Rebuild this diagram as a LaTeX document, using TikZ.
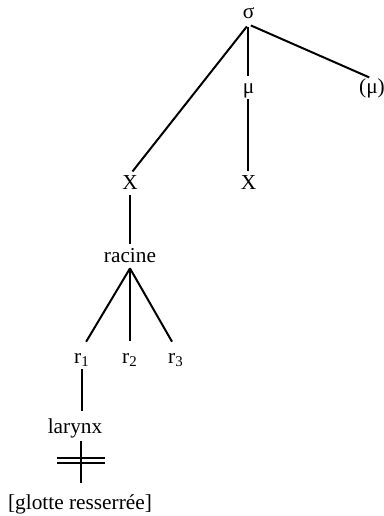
\documentclass[tikz,border=0pt]{standalone}
\usepackage{fontspec}
\setmainfont{Liberation Serif}
\usepackage{tikz}
\usetikzlibrary{calc}

\begin{document}
\begin{tikzpicture}[
    x=0.5pt,
    y=-0.5pt,
    font=\fontsize{10.65pt}{13pt}\selectfont,
    seg/.style={
        anchor=base,
        inner sep=0pt,
        text height=0.7em,
        text depth=0.3em
    },
    edge/.style={
        line width=1pt
    }
]
\useasboundingbox (0,0) rectangle (384,516);

% Syllable node and its moras
\node[seg] (sigma) at (248.5,18)  {σ};
\node[seg] (mu)    at (248.5,93)  {μ};
\node[seg] (muopt) at (372,93)    {(μ)};

% Timing slots
\node[seg] (xa) at (130,189)   {X};
\node[seg] (xb) at (248.5,189) {X};

% Root and its three branches
\node[seg] (racine) at (130,262) {racine};
\node[seg] (r1) at (82,363)  {r\textsubscript{1}};
\node[seg] (r2) at (130,363) {r\textsubscript{2}};
\node[seg] (r3) at (176,363) {r\textsubscript{3}};

% Laryngeal node and its feature
\node[seg] (larynx) at (75,433) {larynx};
\node[seg] (glotte) at (80,509) {[glotte resserrée]};

% sigma level
\draw[edge, shorten <=1.3pt, shorten >=2pt]   (sigma.south) -- (xa.north);
\draw[edge, shorten <=1.3pt, shorten >=1.5pt] (sigma.south) -- (mu.north);
\draw[edge, shorten <=1.3pt, shorten >=1.5pt] (sigma.south) -- (muopt.north);

% mora to slot, slot to root
\draw[edge, shorten >=2pt] (mu.south) -- (xb.north);
\draw[edge, shorten >=2pt] (xa.south) -- (racine.north);

% root to r1, r2, r3
\draw[edge, shorten >=4pt] (racine.south) -- (r1.north);
\draw[edge, shorten >=4pt] (racine.south) -- (r2.north);
\draw[edge, shorten >=4pt] (racine.south) -- (r3.north);

% r1 down to the larynx, then the delinked feature
\draw[edge, shorten >=4pt] (r1.south) -- (r1.south |- larynx.north);
\draw[edge, shorten <=1pt, shorten >=6pt]
    ($(r1.south |- larynx.south)+(-1,0)$) -- ($(r1.south |- glotte.north)+(-1,0)$);

% double bar across the link
\draw[edge] (57,457.5) -- (105,457.5);
\draw[edge] (57,462.5) -- (105,462.5);

\end{tikzpicture}
\end{document}
